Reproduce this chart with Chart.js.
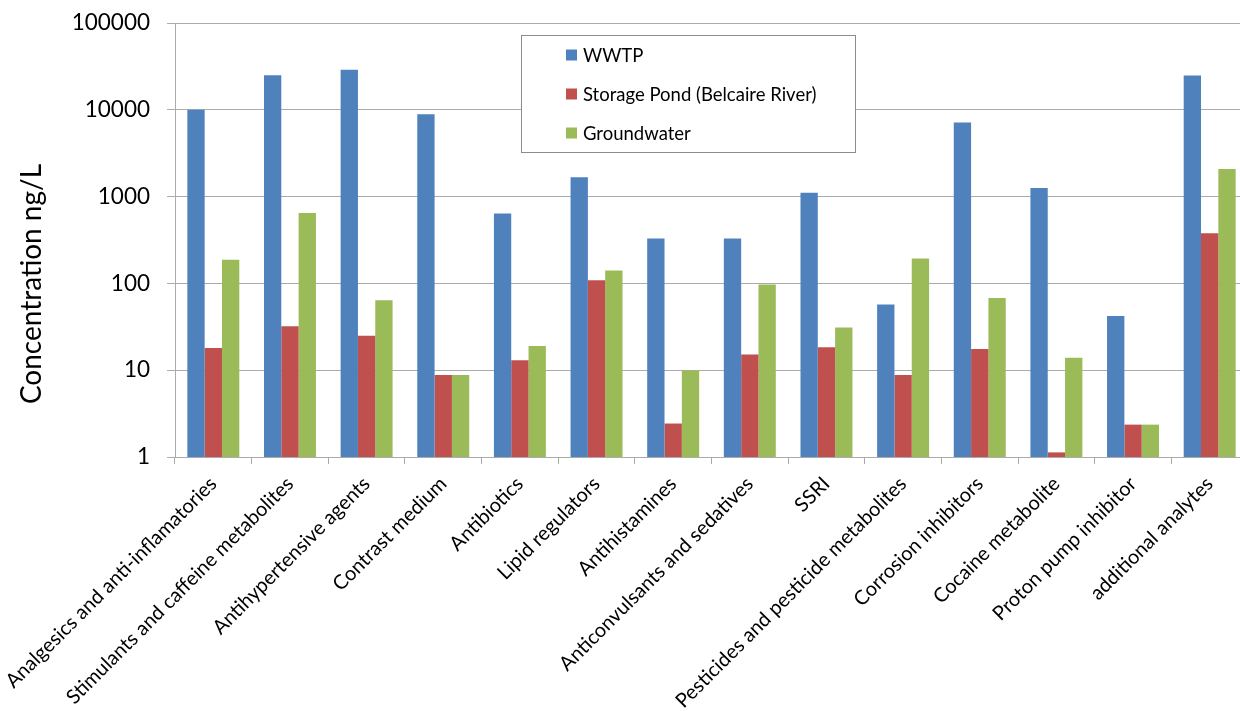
<!DOCTYPE html>
<html>
<head>
<meta charset="utf-8">
<script src="https://cdn.jsdelivr.net/npm/chart.js@4/dist/chart.umd.min.js"></script>
<style>
  html, body { margin: 0; padding: 0; overflow: hidden; background: #ffffff; }
  #wrap { width: 1250px; height: 711px; }
</style>
</head>
<body>
<div id="wrap"><canvas id="c" width="1250" height="711"></canvas></div>
<script>
const categories = [
  "Analgesics and anti-inflamatories",
  "Stimulants and caffeine metabolites",
  "Antihypertensive agents",
  "Contrast medium",
  "Antibiotics",
  "Lipid regulators",
  "Antihistamines",
  "Anticonvulsants and sedatives",
  "SSRI",
  "Pesticides and pesticide metabolites",
  "Corrosion inhibitors",
  "Cocaine metabolite",
  "Proton pump inhibitor",
  "additional analytes"
];
const seriesNames = ["WWTP", "Storage Pond (Belcaire River)", "Groundwater"];
const wwtp = [10000, 25000, 29000, 8900, 640, 1670, 330, 330, 1110, 57, 7140, 1260, 42, 24900];
const storagePond = [18, 32, 25, 8.8, 13, 109, 2.43, 15.2, 18.4, 8.8, 17.6, 1.13, 2.36, 377];
const groundwater = [187, 648, 64, 8.8, 19, 141, 9.9, 97, 31, 194, 68, 13.9, 2.36, 2086];
const yTicks = [1, 10, 100, 1000, 10000, 100000];
const yTitle = "Concentration ng/L";

const colors = ["#4F81BD", "#C0504D", "#9BBB59"];
const gridColor = "#ababab";
const FONT = "Lato, 'Open Sans', sans-serif";

const legendBox = {
  id: "legendBox",
  afterDraw(chart) {
    const ctx = chart.ctx;
    ctx.save();
    ctx.fillStyle = "#ffffff";
    ctx.fillRect(521.5, 35.5, 334, 117);
    ctx.strokeStyle = "#8c8c8c";
    ctx.lineWidth = 1;
    ctx.strokeRect(521.5, 35.5, 334, 117);
    const ys = [55, 94, 133];
    chart.data.datasets.forEach((ds, i) => {
      ctx.fillStyle = ds.backgroundColor;
      ctx.fillRect(566, ys[i] - 5.5, 11, 11);
      ctx.fillStyle = "#000000";
      ctx.font = "18.5px " + FONT;
      ctx.textAlign = "left";
      ctx.textBaseline = "middle";
      ctx.fillText(ds.label, 583, ys[i] + 1);
    });
    ctx.restore();
  }
};

const yTitlePlugin = {
  id: "yTitlePlugin",
  afterDraw(chart) {
    const ctx = chart.ctx;
    ctx.save();
    ctx.translate(32, 284);
    ctx.rotate(-Math.PI / 2);
    ctx.fillStyle = "#000000";
    ctx.font = "28px " + FONT;
    ctx.textAlign = "center";
    ctx.textBaseline = "middle";
    ctx.fillText(yTitle, 0, 0);
    ctx.restore();
  }
};

new Chart(document.getElementById("c"), {
  type: "bar",
  data: {
    labels: categories,
    datasets: [
      { label: seriesNames[0], data: wwtp, backgroundColor: colors[0] },
      { label: seriesNames[1], data: storagePond, backgroundColor: colors[1] },
      { label: seriesNames[2], data: groundwater, backgroundColor: colors[2] }
    ]
  },
  options: {
    responsive: false,
    animation: false,
    layout: { padding: { left: 0, right: 2, top: 23, bottom: 0 } },
    datasets: { bar: { categoryPercentage: 0.678, barPercentage: 1.0, borderWidth: 0 } },
    plugins: {
      legend: { display: false },
      tooltip: { enabled: false },
      title: { display: false }
    },
    scales: {
      x: {
        type: "category",
        grid: { display: true, offset: true, drawOnChartArea: false, tickLength: 7, color: gridColor },
        border: { display: true, color: gridColor },
        ticks: {
          color: "#000000",
          font: { family: FONT, size: 20 },
          maxRotation: 45, minRotation: 45,
          autoSkip: false,
          padding: 8
        },
        afterFit(scale) { scale.height = 254; scale.paddingLeft = 0; scale.paddingRight = 0; }
      },
      y: {
        type: "logarithmic",
        min: 1, max: 100000,
        grid: { color: gridColor, tickLength: 8 },
        border: { display: true, color: gridColor },
        ticks: {
          color: "#000000",
          font: { family: FONT, size: 22.5 },
          padding: 17,
          callback: (v) => String(v)
        },
        afterBuildTicks(scale) { scale.ticks = yTicks.map(v => ({ value: v })); },
        afterFit(scale) { scale.width = 175; scale.paddingTop = 0; scale.paddingBottom = 0; }
      }
    }
  },
  plugins: [legendBox, yTitlePlugin]
});
</script>
</body>
</html>
